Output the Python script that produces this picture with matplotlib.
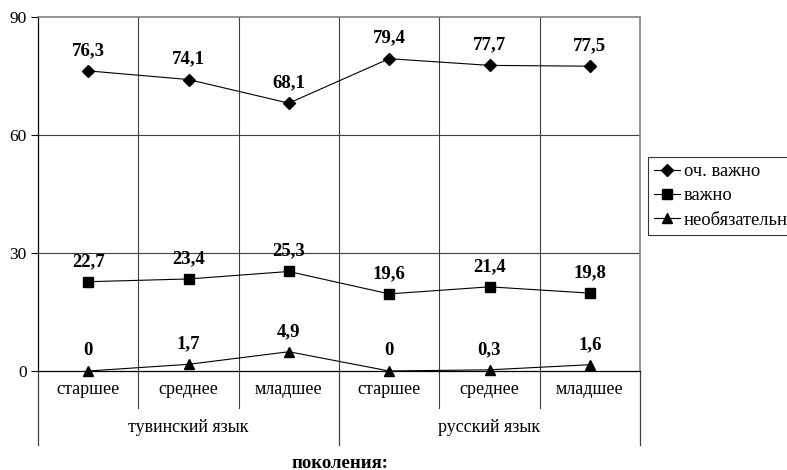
import matplotlib
matplotlib.use("Agg")
import matplotlib.pyplot as plt
import matplotlib.transforms as mtransforms

plt.rcParams['font.family'] = ['Liberation Serif', 'DejaVu Serif']

groups = ['тувинский язык', 'русский язык']
generations = ['старшее', 'среднее', 'младшее']
series_names = ['оч. важно', 'важно', 'необязательно']
very_important = [76.3, 74.1, 68.1, 79.4, 77.7, 77.5]
important = [22.7, 23.4, 25.3, 19.6, 21.4, 19.8]
optional = [0, 1.7, 4.9, 0, 0.3, 1.6]
yticks = [0, 30, 60, 90]
xlabel = 'поколения:'

W, H = 787, 470
fig = plt.figure(figsize=(W / 100, H / 100), dpi=100)
L, R, T, B = 38, 640, 17, 371
ax = fig.add_axes([L / W, 1 - B / H, (R - L) / W, (B - T) / H])

n = len(groups) * len(generations)
xs = list(range(n))
markers = ['D', 's', '^']
msizes = [6, 7, 7]
for vals, m, ms, name in zip([very_important, important, optional], markers, msizes, series_names):
    ax.plot(xs, vals, color='black', lw=0.8, marker=m, ms=ms, label=name, clip_on=False, zorder=3)
    for x, v in zip(xs, vals):
        ax.annotate(('%g' % v).replace('.', ','), (x, v), xytext=(0, 11.5), textcoords='offset points',
                    ha='center', va='baseline', fontsize=13.5, fontweight='bold')

ax.set_xlim(-0.5, n - 0.5)
ax.set_ylim(0, 90)
ax.set_yticks(yticks)
ax.set_yticklabels([str(t) for t in yticks], fontsize=12.5)
ax.tick_params(axis='y', direction='out', length=5, width=0.8, pad=3)
ax.set_xticks([])
for y in yticks[1:3]:
    ax.axhline(y, color='#404040', lw=0.8, zorder=1)
for i in range(1, n):
    ax.axvline(i - 0.5, color='#404040', lw=0.8, zorder=1)

for s in ['top', 'right']:
    ax.spines[s].set_color('#808080')
    ax.spines[s].set_linewidth(1.2)
ax.spines['left'].set_linewidth(0.9)
ax.spines['bottom'].set_linewidth(0.9)

# grouped category axis below the plot
trans = mtransforms.blended_transform_factory(ax.transData, fig.transFigure)
y_row1 = 1 - 408 / H
y_row2 = 1 - 445 / H
y0 = 1 - B / H
for i, x in enumerate(xs):
    ax.text(x, 1 - 390 / H, generations[i % len(generations)], transform=trans,
            ha='center', va='center', fontsize=13)
for i in range(n + 1):
    xb = i - 0.5
    if i % len(generations) == 0:
        ax.plot([xb, xb], [y0, y_row2], transform=trans, color='#404040', lw=0.9, clip_on=False)
    else:
        ax.plot([xb, xb], [y0, y_row1], transform=trans, color='#404040', lw=0.8, clip_on=False)
for g, name in enumerate(groups):
    xc = g * len(generations) + (len(generations) - 1) / 2
    ax.text(xc, 1 - 427 / H, name, transform=trans, ha='center', va='center', fontsize=13)

fig.text(340 / W, 1 - 463 / H, xlabel, ha='center', va='center', fontsize=13.5, fontweight='bold')

# legend sticks out past the right edge, as in the original
leg = fig.legend(loc='upper left', bbox_to_anchor=(648 / W, 1 - 157 / H), fontsize=13.3,
                 frameon=True, fancybox=False, edgecolor='black', borderpad=0.35,
                 handlelength=1.4, handletextpad=0.2, labelspacing=0.38, borderaxespad=0)
leg.get_frame().set_linewidth(0.8)

fig.savefig('out.png', dpi=100)
